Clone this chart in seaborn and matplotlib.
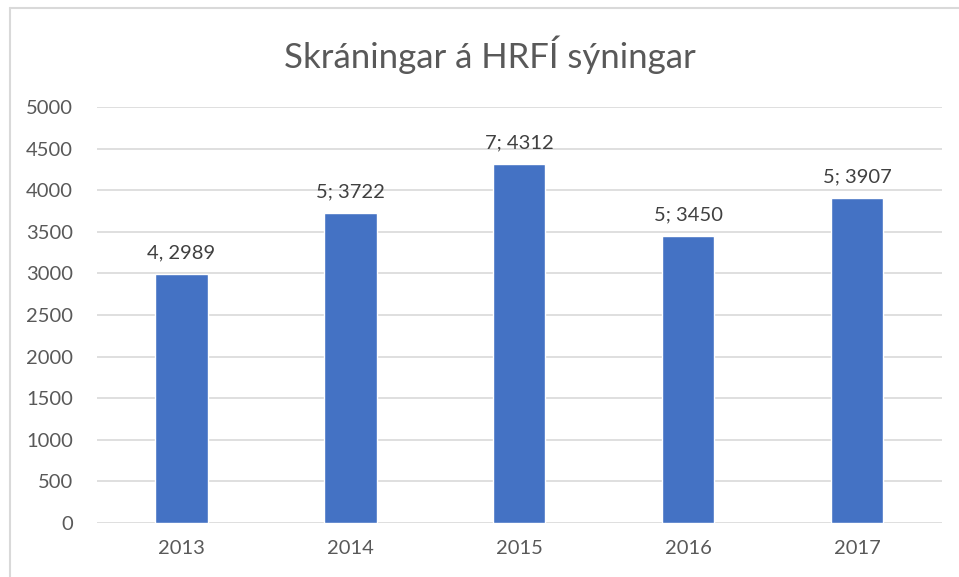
import pandas as pd
import matplotlib.pyplot as plt
import seaborn as sns
from matplotlib.lines import Line2D

years = ['2013', '2014', '2015', '2016', '2017']
registrations = [2989, 3722, 4312, 3450, 3907]
bar_labels = ['4, 2989', '5; 3722', '7; 4312', '5; 3450', '5; 3907']

sns.set_style('white')
plt.rcParams['font.family'] = ['Lato', 'DejaVu Sans']

df = pd.DataFrame({'year': years, 'count': registrations})

fig = plt.figure(figsize=(9.59, 5.77), dpi=100)
ax = fig.add_axes([0.101, 0.0936, 0.881, 0.721])
sns.barplot(data=df, x='year', y='count', color='#4472C4', width=0.31,
            saturation=1, ax=ax)

ax.set_ylim(0, 5000)
ax.set_yticks(range(0, 5001, 500))
ax.grid(axis='y', color='#D9D9D9', linewidth=1.2)
ax.set_axisbelow(True)
for s in ax.spines.values():
    s.set_visible(False)
ax.tick_params(axis='both', length=0, labelsize=14.5, labelcolor='#595959')
ax.tick_params(axis='y', pad=17)
ax.tick_params(axis='x', pad=12)
ax.set_xlabel('')
ax.set_ylabel('')

for i, (v, lab) in enumerate(zip(registrations, bar_labels)):
    ax.annotate(lab, (i, v), xytext=(0, 9), textcoords='offset points',
                ha='center', va='bottom', fontsize=14.5, color='#404040')

fig.text(0.511, 0.905, 'Skráningar á HRFÍ sýningar', ha='center', va='center',
         fontsize=25, color='#595959')

# chart frame (top and left edges visible in the reference)
fig.add_artist(Line2D([10/959, 1], [1 - 8/577, 1 - 8/577], transform=fig.transFigure,
                      color='#D9D9D9', linewidth=1.5))
fig.add_artist(Line2D([10/959, 10/959], [0, 1 - 8/577], transform=fig.transFigure,
                      color='#D9D9D9', linewidth=1.5))

fig.savefig('out.png', dpi=100, facecolor='white')
